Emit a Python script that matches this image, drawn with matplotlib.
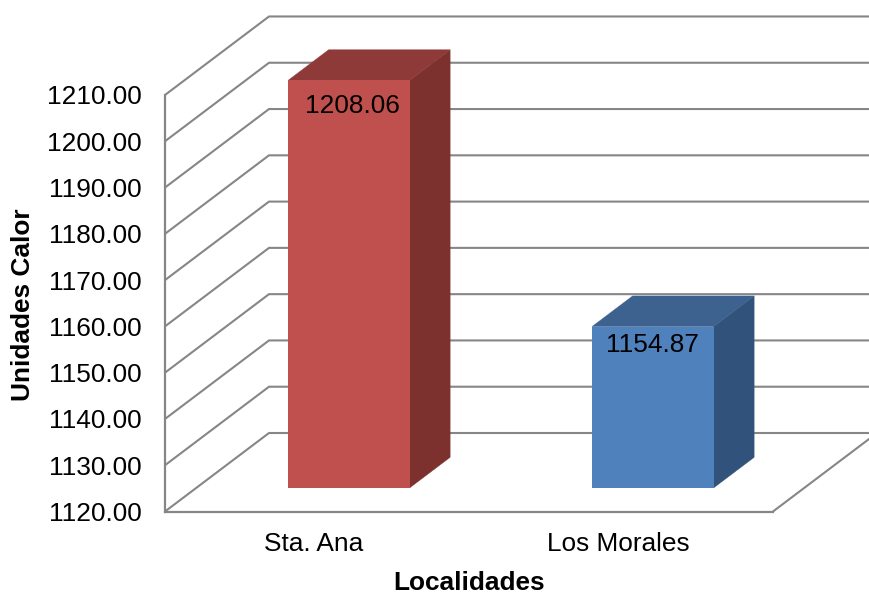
import matplotlib
matplotlib.use('Agg')
import matplotlib.pyplot as plt
from matplotlib.patches import Polygon

localidades = ["Sta. Ana", "Los Morales"]
unidades_calor = [1208.06, 1154.87]
y_ticks = [1120, 1130, 1140, 1150, 1160, 1170, 1180, 1190, 1200, 1210]

front_colors = ['#C0504D', '#4F81BD']
side_colors = ['#7D312F', '#31527B']
top_colors = ['#8E3A38', '#3E6290']
grid_color = '#868686'

# label nudges per bar, x in categories and y in value units below the bar top
label_dx = [0.013, 0.0]
label_dy = [5.6, 3.9]

plt.rcParams['font.family'] = ['Liberation Sans']

W, H = 869, 592
fig = plt.figure(figsize=(W / 100, H / 100), dpi=100)

# plot area runs from the y axis to the right edge, floor at the bottom spine
left, floor_y = 165.0, 511.5
ax = fig.add_axes([left / W, (H - floor_y) / H, (W - left) / W, floor_y / H])
px_per_cat = 304.0
px_per_unit = 4.628
ax.set_xlim(0, (W - left) / px_per_cat)
ax.set_ylim(1120, 1120 + floor_y / px_per_unit)

# depth of the floor and of the bars, in data units
depth_x = 104.0 / px_per_cat
depth_y = 78.5 / px_per_unit
bar_front = 0.30
bar_depth = 0.39
bar_width = 121.5 / px_per_cat

# walls: gridline goes back along the side wall, then across the back wall
for v in y_ticks:
    ax.plot([0, depth_x, 3], [v, v + depth_y, v + depth_y], color=grid_color, lw=1.5, zorder=1,
            solid_joinstyle='miter')
ax.plot([2, 2 + depth_x], [1120, 1120 + depth_y], color=grid_color, lw=1.5, zorder=1)

for i, val in enumerate(unidades_calor):
    x0 = i + 0.5 + bar_front * depth_x - bar_width / 2 + 0.002
    x1 = x0 + bar_width
    y0 = 1120 + bar_front * depth_y
    y1 = y0 + (val - 1120)
    dx = bar_depth * depth_x
    dy = bar_depth * depth_y
    ax.add_patch(Polygon([(x1, y0), (x1 + dx, y0 + dy), (x1 + dx, y1 + dy), (x1, y1)],
                         fc=side_colors[i], ec=side_colors[i], lw=0.3, zorder=2))
    ax.add_patch(Polygon([(x0, y1), (x0 + dx, y1 + dy), (x1 + dx, y1 + dy), (x1, y1)],
                         fc=top_colors[i], ec=top_colors[i], lw=0.3, zorder=2))
    ax.bar(x0, val - 1120, width=bar_width, bottom=y0, align='edge', color=front_colors[i], zorder=3)
    ax.text(x0 + bar_width / 2 + label_dx[i], y1 - label_dy[i], "%.2f" % val, ha='center', va='center',
            fontsize=18.9, color='black', zorder=4)

for s in ['top', 'right']:
    ax.spines[s].set_visible(False)
ax.spines['left'].set_bounds(1120, 1210)
ax.spines['bottom'].set_bounds(0, 2)
for s in ['left', 'bottom']:
    ax.spines[s].set_color(grid_color)
    ax.spines[s].set_linewidth(1.6)

ax.set_yticks(y_ticks)
ax.set_yticklabels(["%.2f" % v for v in y_ticks], fontsize=18.9)
ax.set_xticks([0.49, 1.49])
ax.set_xticklabels(localidades, fontsize=18.9)
ax.tick_params(axis='both', length=0)
ax.tick_params(axis='y', pad=17)
ax.tick_params(axis='x', pad=15)

fig.text(469 / W, 1 - 590 / H, "Localidades", ha='center', va='baseline', fontsize=18.9, fontweight='bold')
fig.text(23 / W, 1 - 305 / H, "Unidades Calor", ha='center', va='center', rotation=90,
         fontsize=18.9, fontweight='bold')

fig.savefig('out.png', dpi=100)
